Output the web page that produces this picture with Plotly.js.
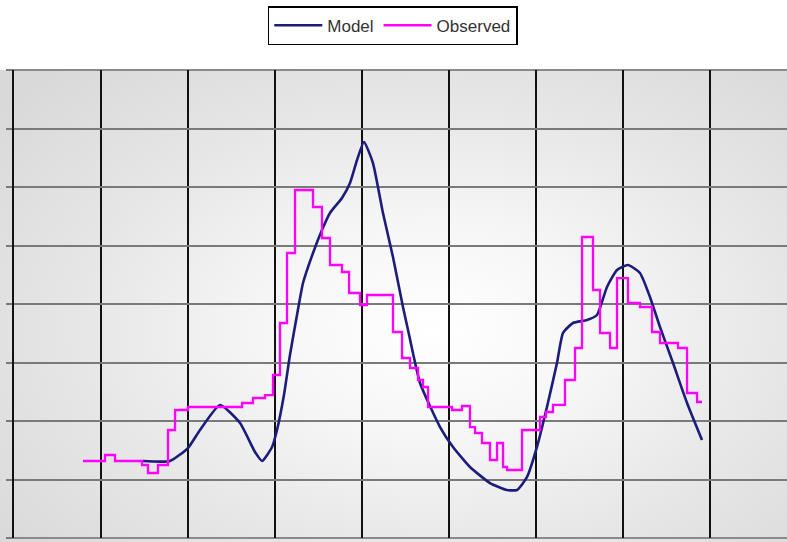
<!DOCTYPE html>
<html>
<head>
<meta charset="utf-8">
<script src="https://cdn.plot.ly/plotly-3.0.1.min.js"></script>
<style>
  html, body { margin: 0; padding: 0; background: #ffffff; }
  #wrap { position: relative; width: 787px; height: 542px; }
  #bg { position: absolute; left: 0; top: 70px; width: 787px; height: 472px;
        background: radial-gradient(ellipse 70% 75% at 55% 55%, #ffffff 0%, #f6f6f6 30%, #e6e6e6 65%, #d9d9d9 100%); }
  #chart { position: absolute; left: 0; top: 0; width: 787px; height: 542px; }
</style>
</head>
<body>
<div id="wrap"><div id="bg"></div><div id="chart"></div></div>
<script>
// Model curve (x in grid units, y in grid units)
var modelX = [1.483, 1.793, 2.000, 2.138, 2.368, 2.598, 2.770, 2.851, 2.966, 3.023, 3.103, 3.172, 3.253, 3.322,
              3.437, 3.540, 3.632, 3.770, 3.862, 3.943, 4.023, 4.126, 4.241, 4.356, 4.471, 4.529, 4.667, 4.897,
              5.046, 5.241, 5.471, 5.667, 5.782, 5.897, 6.011, 6.126, 6.241, 6.310, 6.425, 6.586, 6.701, 6.816,
              6.931, 7.057, 7.195, 7.310, 7.425, 7.575, 7.736, 7.908];
var modelY = [1.316, 1.316, 1.538, 1.846, 2.274, 1.966, 1.470, 1.316, 1.556, 1.846, 2.444, 3.128, 3.812, 4.359,
              4.872, 5.265, 5.556, 5.812, 6.068, 6.462, 6.769, 6.410, 5.556, 4.803, 3.949, 3.556, 2.650, 1.897,
              1.556, 1.214, 0.940, 0.821, 0.821, 1.043, 1.556, 2.239, 2.991, 3.504, 3.675, 3.726, 3.812, 4.291,
              4.581, 4.667, 4.530, 4.120, 3.607, 2.991, 2.308, 1.675];

// Observed step series (value holds from each x until the next x)
var obsX = [0.793, 1.046, 1.161, 1.471, 1.540, 1.655, 1.770, 1.851, 2.000, 2.621, 2.747, 2.885, 2.977, 3.057,
            3.138, 3.230, 3.437, 3.540, 3.632, 3.770, 3.851, 3.977, 4.057, 4.356, 4.460, 4.552, 4.644, 4.701,
            4.759, 5.034, 5.149, 5.241, 5.299, 5.379, 5.471, 5.552, 5.621, 5.667, 5.839, 6.046, 6.115, 6.195,
            6.333, 6.448, 6.529, 6.655, 6.736, 6.851, 6.931, 7.057, 7.195, 7.333, 7.425, 7.632, 7.736, 7.851, 7.908];
var obsY = [1.316, 1.419, 1.316, 1.248, 1.111, 1.248, 1.846, 2.188, 2.239, 2.308, 2.393, 2.444, 2.786, 3.675,
            4.872, 5.949, 5.658, 5.128, 4.667, 4.547, 4.188, 3.983, 4.154, 3.521, 3.077, 2.906, 2.701, 2.581,
            2.239, 2.188, 2.256, 1.897, 1.795, 1.624, 1.333, 1.624, 1.214, 1.162, 1.846, 2.068, 2.154, 2.274,
            2.701, 3.248, 5.145, 4.239, 3.504, 3.248, 4.444, 4.017, 3.949, 3.521, 3.333, 3.248, 2.479, 2.325, 2.325];

var traces = [
  { x: modelX, y: modelY, name: 'Model', type: 'scatter', mode: 'lines',
    line: { color: '#1c1c7c', width: 2.6, shape: 'spline', smoothing: 0.5 } },
  { x: obsX, y: obsY, name: 'Observed', type: 'scatter', mode: 'lines',
    line: { color: '#ff00ff', width: 2.3, shape: 'hv' } }
];

var layout = {
  width: 787, height: 542,
  margin: { l: 14, r: 0, t: 70, b: 4, pad: 0 },
  paper_bgcolor: 'rgba(0,0,0,0)',
  plot_bgcolor: 'rgba(0,0,0,0)',
  showlegend: true,
  legend: {
    orientation: 'h', x: 0.490, xanchor: 'center', y: 1.053, yanchor: 'bottom',
    bgcolor: '#ffffff', bordercolor: '#000000', borderwidth: 1.5,
    font: { family: 'Liberation Sans Narrow, Liberation Sans, Arial, sans-serif', size: 17, color: '#333333' },
    itemwidth: 48, tracegroupgap: 0, itemclick: false
  },
  xaxis: {
    range: [0, 8.885], dtick: 1, tick0: 0, showticklabels: false, ticks: '',
    showgrid: true, gridcolor: '#111111', gridwidth: 1.5, zeroline: false, showline: false, fixedrange: true
  },
  yaxis: {
    range: [0, 8], dtick: 1, tick0: 0, showticklabels: false, ticks: 'outside', ticklen: 6,
    tickcolor: '#7a7a7a', tickwidth: 2,
    showgrid: true, gridcolor: '#7a7a7a', gridwidth: 2, zeroline: false,
    showline: true, linecolor: '#111111', linewidth: 2, fixedrange: true
  },
  shapes: [
    { type: 'line', xref: 'paper', yref: 'paper', x0: -0.008, x1: 1, y0: 1, y1: 1,
      line: { color: '#8a8a8a', width: 2 }, layer: 'below' },
    { type: 'line', xref: 'paper', yref: 'paper', x0: -0.008, x1: 1, y0: 0, y1: 0,
      line: { color: '#8a8a8a', width: 2 }, layer: 'below' }
  ]
};

Plotly.newPlot('chart', traces, layout, { displayModeBar: false, staticPlot: true });
</script>
</body>
</html>
